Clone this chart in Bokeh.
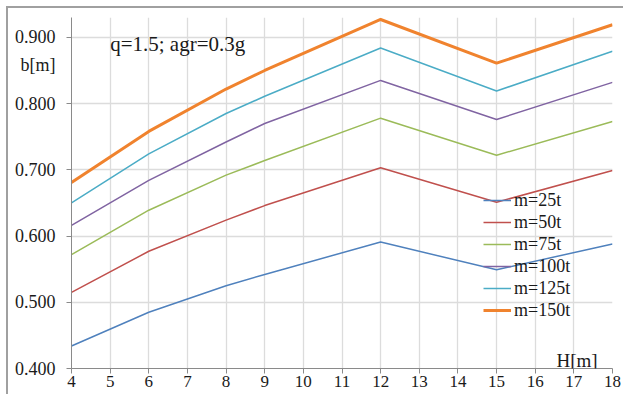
from bokeh.plotting import figure
from bokeh.models import Legend, LegendItem, Label, FixedTicker, Range1d
from bokeh.embed import file_html
from bokeh.resources import INLINE

H = [4, 6, 8, 9, 12, 15, 18]
series_names = ["m=25t", "m=50t", "m=75t", "m=100t", "m=125t", "m=150t"]
m25 = [0.434, 0.485, 0.525, 0.542, 0.591, 0.549, 0.588]
m50 = [0.515, 0.577, 0.624, 0.646, 0.703, 0.651, 0.699]
m75 = [0.572, 0.639, 0.692, 0.714, 0.778, 0.722, 0.773]
m100 = [0.616, 0.684, 0.742, 0.770, 0.835, 0.776, 0.832]
m125 = [0.650, 0.724, 0.785, 0.811, 0.884, 0.819, 0.879]
m150 = [0.681, 0.758, 0.822, 0.850, 0.927, 0.861, 0.919]
series_values = [m25, m50, m75, m100, m125, m150]
colors = ["#4F81BD", "#C0504D", "#9BBB59", "#8064A2", "#4BACC6", "#F0832E"]
widths = [1.5, 1.5, 1.5, 1.5, 1.5, 3]
x_ticks = list(range(4, 19))
y_ticks = [0.4, 0.5, 0.6, 0.7, 0.8, 0.9]
y_label_pos = 0.859
y_tick_labels = {0.4: "0.400", 0.5: "0.500", 0.6: "0.600", 0.7: "0.700", 0.8: "0.800", 0.9: "0.900",
                 y_label_pos: "b[m]"}

FONT = "Liberation Serif"

p = figure(width=617, height=388, output_backend="svg", toolbar_location=None,
           x_range=Range1d(4, 18), y_range=Range1d(0.4, 0.93),
           min_border_left=63, min_border_right=13, min_border_top=9, min_border_bottom=28)
p.styles = {"border": "2px solid #a0a0a0",
            "border-color": "#a0a0a0 transparent transparent #a0a0a0",
            "border-width": "2px 0px 0px 2px",
            "margin-left": "6px", "margin-top": "6px"}
p.outline_line_color = None
p.background_fill_color = "white"
p.border_fill_color = "white"

ya = p.yaxis[0]
ya.ticker = FixedTicker(ticks=y_ticks + [y_label_pos], minor_ticks=y_ticks)
ya.major_label_overrides = y_tick_labels
ya.axis_line_color = "#8a8a8a"
ya.major_tick_line_color = None
ya.major_tick_in = 0
ya.major_tick_out = 5
ya.minor_tick_line_color = "#8a8a8a"
ya.minor_tick_in = 0
ya.minor_tick_out = 5
ya.major_label_standoff = 11
ya.major_label_text_font = FONT
ya.major_label_text_font_size = "18px"
ya.major_label_text_color = "#1a1a1a"

xa = p.xaxis[0]
xa.axis_line_color = "#8a8a8a"
xa.major_tick_line_color = "#8a8a8a"
xa.major_tick_in = 0
xa.major_tick_out = 5
xa.minor_tick_line_color = None
xa.major_label_text_font = FONT
xa.major_label_text_font_size = "17px"
xa.major_label_text_color = "#1a1a1a"
xa.ticker = FixedTicker(ticks=x_ticks)
xa.major_label_standoff = 2

p.xgrid.ticker = FixedTicker(ticks=x_ticks)
p.ygrid.ticker = FixedTicker(ticks=y_ticks)
p.xgrid.grid_line_color = "#dcdcdc"
p.ygrid.grid_line_color = "#dcdcdc"
p.xgrid.grid_line_width = 1.3
p.ygrid.grid_line_width = 1.3

items = []
for name, vals, c, w in zip(series_names, series_values, colors, widths):
    r = p.line(H, vals, line_color=c, line_width=w)
    items.append(LegendItem(label=name, renderers=[r]))

legend = Legend(items=items, location=(412, 47), padding=0, margin=0, spacing=0,
                label_height=22, glyph_height=22, glyph_width=28, label_standoff=3,
                label_text_font=FONT, label_text_font_size="18px", label_text_color="#1a1a1a",
                background_fill_alpha=0, border_line_color=None)
p.add_layout(legend, "center")

p.add_layout(Label(x=5.0, y=0.8905, text="q=1.5; agr=0.3g", text_font=FONT,
                   text_font_size="21px", text_color="#1a1a1a", text_baseline="alphabetic"))
p.add_layout(Label(x=16.55, y=0.412, text="H[m]", text_font=FONT,
                   text_font_size="19px", text_color="#1a1a1a", text_baseline="alphabetic"))

open("out.html", "w").write(file_html(p, INLINE))
